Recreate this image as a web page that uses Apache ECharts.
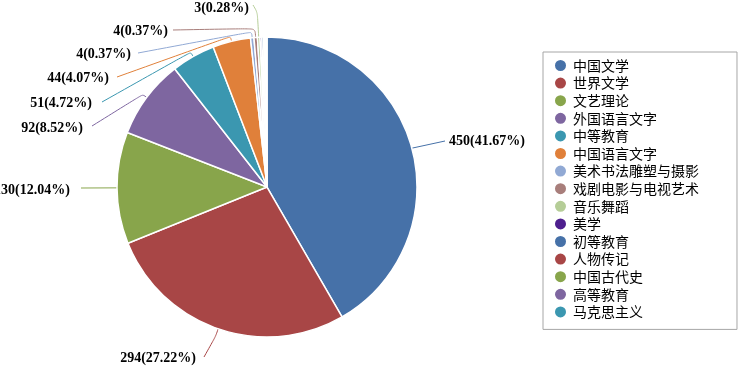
<!DOCTYPE html>
<html>
<head>
<meta charset="UTF-8">
<title>图书类别分布</title>
<script src="https://cdn.jsdelivr.net/npm/echarts@6/dist/echarts.min.js"></script>
<style>
html, body { margin: 0; padding: 0; background: #fff; }
#main { width: 749px; height: 370px; }
</style>
</head>
<body>
<div id="main"></div>
<script>
// 数据
var categories = ['中国文学', '世界文学', '文艺理论', '外国语言文字', '中等教育', '中国语言文字',
  '美术书法雕塑与摄影', '戏剧电影与电视艺术', '音乐舞蹈', '美学', '初等教育', '人物传记',
  '中国古代史', '高等教育', '马克思主义'];
var counts = [450, 294, 130, 92, 51, 44, 4, 4, 3, 2, 2, 1, 1, 1, 1];
var colors = ['#4671a8', '#a84646', '#88a54b', '#7e66a0', '#3b97b0', '#e0803a',
  '#91a9d4', '#a87e7b', '#b5cd97', '#4e1f8e', '#4671a8', '#a84646', '#88a54b', '#7e66a0', '#3b97b0'];

// 只有前 9 项显示标签
var labelCount = 9;
// 标签位置 / 引导线终点 / 折点长度（仅布局）
var labelPos = [[449, 141, 'left'], [196, 358, 'right'], [69.8, 190, 'right'], [83, 128, 'right'],
  [92, 103, 'right'], [109, 78, 'right'], [131, 54, 'right'], [168, 31, 'right'], [249, 8, 'right']];
var lineEnds = [[445, 141], [204, 357], [81, 188], [92, 126], [102, 102], [117, 77], [138, 53], [173, 30], [253, 5]];
var elbows = [0, 8, 0, 5, 5, 5, 6, 9, 25];
var center = [267, 187];

var chart = echarts.init(document.getElementById('main'));

var pieData = categories.map(function (name, i) {
  var item = { name: name, value: counts[i], itemStyle: { color: colors[i] } };
  if (i >= labelCount) {
    item.label = { show: false };
    item.labelLine = { show: false };
  }
  return item;
});

chart.setOption({
  animation: false,
  legend: {
    orient: 'vertical',
    left: 543,
    top: 52,
    padding: [6, 38, 10, 10],
    borderColor: '#a6a6a6',
    borderWidth: 1,
    itemGap: 2.6,
    itemWidth: 13,
    itemHeight: 13,
    icon: 'circle',
    selectedMode: false,
    textStyle: {
      fontFamily: 'Noto Sans CJK SC',
      fontSize: 14,
      lineHeight: 14,
      color: '#000',
      padding: [0, 0, 0, 1]
    },
    data: categories
  },
  series: [{
    type: 'pie',
    center: center,
    radius: 150,
    startAngle: 90,
    clockwise: true,
    avoidLabelOverlap: false,
    itemStyle: { borderColor: '#fff', borderWidth: 1.5 },
    label: {
      show: true,
      formatter: '{c}({d}%)',
      fontFamily: 'Liberation Serif',
      fontWeight: 'bold',
      fontSize: 14,
      color: '#000'
    },
    labelLine: {
      show: true,
      length: 10,
      length2: 10,
      smooth: 0.3,
      lineStyle: { width: 1 }
    },
    labelLayout: function (params) {
      var i = params.dataIndex;
      if (i >= labelCount || !params.labelLinePoints) return {};
      var p0 = params.labelLinePoints[0];
      var dx = p0[0] - center[0], dy = p0[1] - center[1];
      var len = Math.sqrt(dx * dx + dy * dy);
      var pts = [p0];
      if (elbows[i]) pts.push([p0[0] + dx / len * elbows[i], p0[1] + dy / len * elbows[i]]);
      pts.push(lineEnds[i]);
      return {
        x: labelPos[i][0],
        y: labelPos[i][1],
        align: labelPos[i][2],
        verticalAlign: 'middle',
        labelLinePoints: pts
      };
    },
    data: pieData
  }]
});
</script>
</body>
</html>
